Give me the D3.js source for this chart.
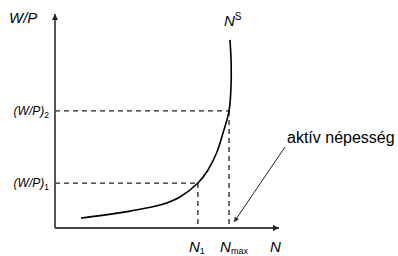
<!DOCTYPE html>
<html><head><meta charset="utf-8">
<script src="https://cdn.jsdelivr.net/npm/d3@7"></script>
<style>body{margin:0;background:#fff}svg{display:block}text{font-family:"Liberation Sans",Arial,sans-serif}</style>
</head><body>
<script>
// Labor supply curve N^S (abstract units 0-100)
const supplyN  = [11.6, 20.1, 33.5, 46.9, 55.8, 63.8, 68.3, 72.3, 75.0, 77.7, 78.6, 78.6, 78.1];
const supplyWP = [4.7, 5.8, 7.9, 10.7, 14.5, 21.0, 27.1, 35.5, 44.4, 54.7, 66.8, 78.5, 87.9];
const markN  = [63.8, 77.7];      // N1, Nmax
const markWP = [21.0, 54.7];      // (W/P)1, (W/P)2
const markNLabels  = [["N","1"], ["N","max"]];
const markWPLabels = [["(W/P)","1"], ["(W/P)","2"]];

const W = 398, H = 256;
const svg = d3.select("body").append("svg").attr("width", W).attr("height", H);
const x = d3.scaleLinear().domain([0, 100]).range([55, 279]);
const y = d3.scaleLinear().domain([0, 100]).range([228, 14]);

const defs = svg.append("defs");
defs.append("marker").attr("id","ah").attr("viewBox","0 0 10 10").attr("refX",10).attr("refY",5)
  .attr("markerWidth",5).attr("markerHeight",5).attr("orient","auto").attr("markerUnits","userSpaceOnUse")
  .append("path").attr("d","M0,0L10,5L0,10Z").attr("fill","#222");
defs.append("marker").attr("id","ah2").attr("viewBox","0 0 10 10").attr("refX",10).attr("refY",5)
  .attr("markerWidth",6).attr("markerHeight",6).attr("orient","auto").attr("markerUnits","userSpaceOnUse")
  .append("path").attr("d","M0,0L10,5L0,10Z").attr("fill","#222");

// dashed guides
markWP.forEach((v,i)=>{
  svg.append("line").attr("x1",x(0)).attr("x2",x(markN[i])).attr("y1",y(v)).attr("y2",y(v))
    .attr("stroke","#222").attr("stroke-width",1.3).attr("stroke-dasharray","5,4");
});
markN.forEach((v,i)=>{
  svg.append("line").attr("x1",x(v)).attr("x2",x(v)).attr("y1",y(markWP[i])).attr("y2",y(0))
    .attr("stroke","#222").attr("stroke-width",1.3).attr("stroke-dasharray","5,4");
});

// axes
svg.append("line").attr("x1",x(0)).attr("y1",y(0)).attr("x2",x(0)).attr("y2",y(100))
  .attr("stroke","#444").attr("stroke-width",1.8).attr("marker-end","url(#ah2)");
svg.append("line").attr("x1",x(0)).attr("y1",y(0)).attr("x2",x(100)).attr("y2",y(0))
  .attr("stroke","#444").attr("stroke-width",1.8).attr("marker-end","url(#ah2)");

// supply curve
const pts = supplyN.map((n,i)=>[n, supplyWP[i]]);
svg.append("path").attr("d", d3.line().x(d=>x(d[0])).y(d=>y(d[1])).curve(d3.curveCatmullRom)(pts))
  .attr("fill","none").attr("stroke","#000").attr("stroke-width",1.6);

// labels
svg.append("text").attr("x",9).attr("y",23).attr("font-size",15).attr("font-style","italic").text("W/P");
const nsl = svg.append("text").attr("x",x(supplyN[supplyN.length-1])-6).attr("y",26).attr("font-size",15).attr("font-style","italic");
nsl.append("tspan").text("N");
nsl.append("tspan").attr("font-size",10).attr("dy",-6).attr("font-style","normal").text("S");

markWPLabels.forEach((l,i)=>{
  const t = svg.append("text").attr("x",49).attr("y",y(markWP[i])+4).attr("text-anchor","end").attr("font-size",12);
  t.append("tspan").attr("font-style","italic").text(l[0]);
  t.append("tspan").attr("font-size",8.5).attr("dy",3).text(l[1]);
});
markNLabels.forEach((l,i)=>{
  const t = svg.append("text").attr("x",x(markN[i])-9).attr("y",252).attr("font-size",15);
  t.append("tspan").attr("font-style","italic").text(l[0]);
  t.append("tspan").attr("font-size",9).attr("dy",2).text(l[1]);
});
svg.append("text").attr("x",270).attr("y",252).attr("font-size",15).attr("font-style","italic").text("N");

svg.append("text").attr("x",287).attr("y",143).attr("font-size",16).text("aktív népesség");
svg.append("line").attr("x1",285).attr("y1",147).attr("x2",x(markN[1])+5).attr("y2",y(0)-6)
  .attr("stroke","#222").attr("stroke-width",1).attr("marker-end","url(#ah)");
</script>
</body></html>
